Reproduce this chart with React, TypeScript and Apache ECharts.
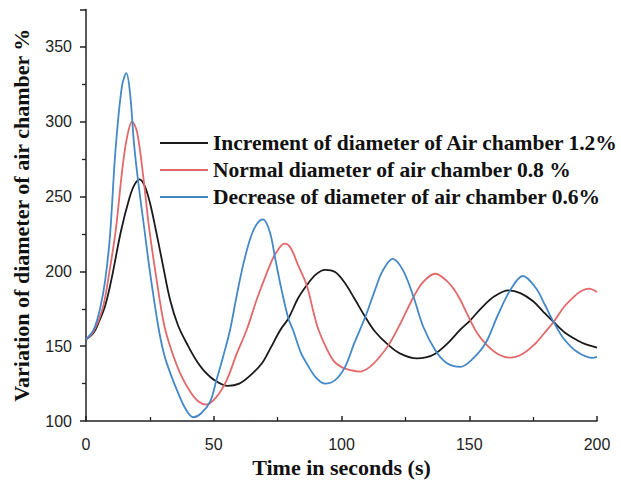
import React, { useEffect, useRef } from "react";
import * as echarts from "echarts";

const seriesNames = [
  "Increment of diameter of Air chamber 1.2%",
  "Normal diameter of air chamber 0.8 %",
  "Decrease of diameter of air chamber 0.6%",
];

const xTicks = [0, 50, 100, 150, 200];
const yTicks = [100, 150, 200, 250, 300, 350];

// [time (s), variation %]
const blackData: [number, number][] = [
  [0, 154.5], [3, 159], [5, 166], [7.5, 177], [10, 195], [13.7, 227], [17, 249], [19, 258], [21, 261.5],
  [23, 257], [25, 246], [27.3, 228], [30, 205], [32.9, 181], [36, 164], [40, 150], [43, 141],
  [46.5, 133], [50.5, 127], [55.5, 123.5], [60, 125], [64, 130], [68.8, 138.4], [72, 148],
  [76, 160.7], [79.2, 168.5], [83, 182], [86.4, 190.7], [90, 198], [93.6, 201], [97.5, 199.5],
  [101, 193], [105, 182], [109.3, 169.5], [113, 160], [118.4, 150.7], [123, 145], [129.5, 141.8],
  [133, 142.5], [136.7, 145], [141, 151], [146.5, 161], [150.4, 167.3], [155, 176], [160, 183.5],
  [165.4, 187.3], [170, 185.5], [175, 180], [179, 173], [183, 166.2], [187.5, 159], [192.2, 154],
  [196, 151], [200, 149.1],
];

const redData: [number, number][] = [
  [0, 154.5], [3, 160], [6.5, 175], [9, 198], [11.6, 227], [14.2, 268], [16, 289], [18, 300],
  [20, 293], [22.5, 262], [24.7, 229], [27.5, 196], [30.6, 164], [33.5, 147], [37.1, 131], [41, 119],
  [44, 113], [47, 111], [51, 116], [55, 127], [59, 145], [62.9, 161], [67, 182], [72.7, 207],
  [75, 214], [77.6, 218.5], [80, 216], [82.8, 205], [86.4, 190.7], [89, 173], [91, 161], [94, 149],
  [97, 140], [100, 136], [103.5, 134], [107.3, 133], [111, 136], [114.5, 142], [118.4, 150.7],
  [123, 165], [128.2, 182.9], [132, 193], [136.7, 198.4], [141, 194], [144, 188], [146.5, 181],
  [148.5, 174], [150.4, 167.3], [153, 159], [156.3, 151.8], [161, 145], [166, 142.4], [171, 145],
  [175.9, 151.8], [179, 158], [183, 166.2], [187, 176], [190.9, 182.9], [193.5, 186.5],
  [196.8, 188.5], [200, 186.2],
];

const blueData: [number, number][] = [
  [0, 154.5], [3, 161], [5.5, 175], [7.5, 194], [9.4, 224], [11.5, 280], [14, 323], [15.8, 332.5],
  [17.3, 318], [18.8, 285], [20.5, 259], [22.7, 230], [25, 200], [28.2, 164], [30.5, 145],
  [33.2, 131], [36, 119], [39, 108], [42, 102.5], [45, 105], [48.6, 113], [51, 127], [53.5, 142],
  [56.4, 161], [59, 184], [61.6, 205], [64.5, 223], [67, 232], [69.3, 234.7], [72, 226], [74, 209],
  [76.5, 188], [79.2, 168.5], [81.2, 160], [84, 146], [86.4, 138.4], [90, 129], [93.6, 125],
  [97.5, 127.3], [101.4, 136.2], [105, 152], [109.3, 169.5], [113, 187], [116, 200], [120, 208.4],
  [124, 201], [128.2, 182.9], [132, 163], [136.7, 147.3], [141, 139], [146.5, 136.2], [151, 141],
  [156.3, 151.8], [161, 170], [166, 187.3], [171, 196.9], [176, 189], [179.5, 178], [183, 166.2],
  [187, 155], [192.2, 146.2], [198, 142.2], [200, 142.9],
];

const colors = ["#1a1a1a", "#e2696a", "#4488c8"];

const serif = "'Times New Roman', 'Liberation Serif', serif";
const sans = "Arial, 'Liberation Sans', sans-serif";

export default function App() {
  const ref = useRef<HTMLDivElement>(null);
  useEffect(() => {
    if (!ref.current) return;
    const chart = echarts.init(ref.current, undefined, { renderer: "svg" });
    const datasets = [blackData, redData, blueData];
    chart.setOption({
      animation: false,
      backgroundColor: "#ffffff",
      grid: { left: 86, right: 24, top: 9.5, bottom: 63, containLabel: false },
      legend: {
        orient: "vertical",
        left: 155,
        top: 127,
        icon: "rect",
        itemWidth: 48,
        itemHeight: 2,
        itemGap: 5,
        padding: 5,
        textStyle: {
          fontFamily: serif,
          fontWeight: "bold",
          fontSize: 21.5,
          lineHeight: 22,
          color: "#111",
        },
        data: seriesNames,
      },
      xAxis: {
        type: "value",
        min: xTicks[0],
        max: xTicks[xTicks.length - 1],
        interval: 50,
        name: "Time in seconds (s)",
        nameLocation: "middle",
        nameGap: 34,
        nameTextStyle: { fontFamily: serif, fontWeight: "bold", fontSize: 22, color: "#111" },
        axisLine: { show: true, onZero: false, lineStyle: { color: "#222", width: 1.5 } },
        axisTick: { show: true, inside: true, length: 5, lineStyle: { color: "#222", width: 1.5 } },
        minorTick: { show: true, splitNumber: 2, length: 4, lineStyle: { color: "#222", width: 1.3 } },
        axisLabel: { fontFamily: sans, fontSize: 16, color: "#222", margin: 15 },
        splitLine: { show: false },
      },
      yAxis: {
        type: "value",
        min: yTicks[0],
        max: 375,
        interval: 50,
        name: "Variation of diameter of air chamber %",
        nameLocation: "middle",
        nameGap: 54,
        nameRotate: 90,
        nameTextStyle: { fontFamily: serif, fontWeight: "bold", fontSize: 22, color: "#111" },
        axisLine: { show: true, onZero: false, lineStyle: { color: "#222", width: 1.5 } },
        axisTick: { show: true, inside: false, length: 6, lineStyle: { color: "#222", width: 1.5 } },
        minorTick: { show: true, splitNumber: 2, length: 4, lineStyle: { color: "#222", width: 1.3 } },
        axisLabel: { fontFamily: sans, fontSize: 16, color: "#222", margin: 14, showMaxLabel: false },
        splitLine: { show: false },
      },
      series: seriesNames.map((name, i) => ({
        name,
        type: "line",
        data: datasets[i],
        smooth: 0.35,
        showSymbol: false,
        symbol: "none",
        lineStyle: { color: colors[i], width: 1.8 },
        itemStyle: { color: colors[i] },
      })),
    });
    return () => chart.dispose();
  }, []);
  return (
    <div
      ref={ref}
      style={{ position: "fixed", left: 0, top: 0, width: 621, height: 484 }}
    />
  );
}
